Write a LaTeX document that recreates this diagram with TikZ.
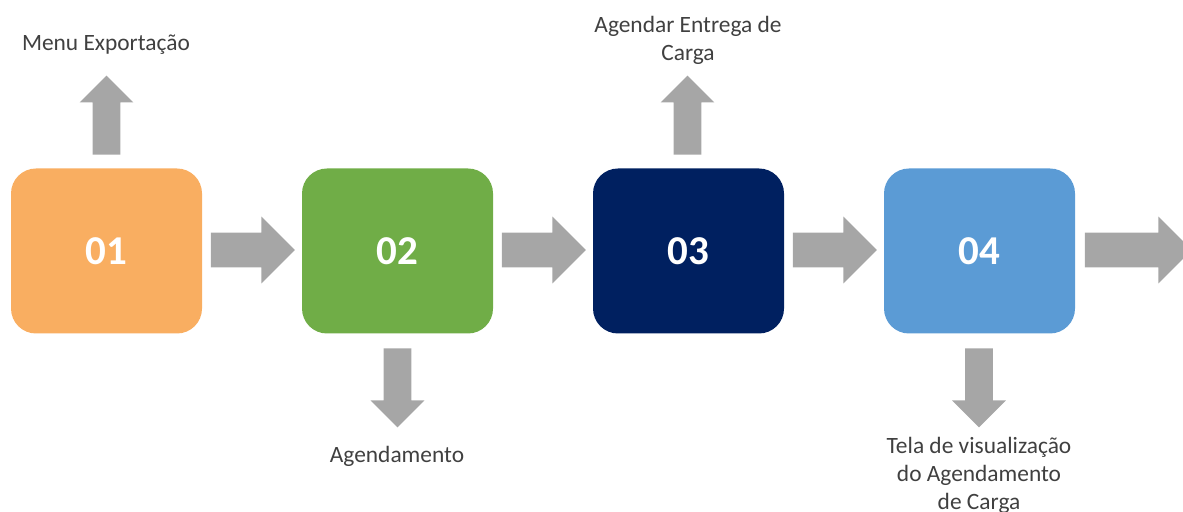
\documentclass[tikz,border=0pt]{standalone}
\usepackage{fontspec}
\setmainfont{Carlito}
\usetikzlibrary{shapes.arrows,calc}

\definecolor{laranja}{HTML}{F9AE61}
\definecolor{verde}{HTML}{70AD47}
\definecolor{marinho}{HTML}{002060}
\definecolor{azul}{HTML}{5B9BD5}
\definecolor{cinza}{HTML}{A6A6A6}
\definecolor{texto}{HTML}{404040}

\begin{document}
\begin{tikzpicture}[x=0.5pt,y=-0.5pt,
	etapa/.style={rounded corners=12.5pt, minimum width=95.5pt, minimum height=82.5pt, text=white, font=\fontsize{20.5}{24}\selectfont\bfseries},
	seta/.style={single arrow, fill=cinza, inner xsep=0pt, inner ysep=8.5pt, minimum width=1pt, minimum height=42pt, single arrow head extend=8pt, anchor=tail},
	setav/.style={single arrow, fill=cinza, inner xsep=0pt, inner ysep=6.75pt, minimum width=1pt, minimum height=39.5pt, single arrow head extend=6.5pt, anchor=tail},
	rotulo/.style={text=texto, align=center, font=\fontsize{11.7}{14}\selectfont}]
	\useasboundingbox (0,0) rectangle (1183,512);

	\node[etapa, fill=laranja] (e1) at (106.5,251) {01};
	\node[etapa, fill=verde] (e2) at (397.5,251) {02};
	\node[etapa, fill=marinho] (e3) at (688.5,251) {03};
	\node[etapa, fill=azul] (e4) at (979.5,251) {04};

	\node[seta] (s1) at ($(e1.east)+(8,-1)$) {};
	\node[seta] (s2) at ($(e2.east)+(8,-1)$) {};
	\node[seta] (s3) at ($(e3.east)+(8,-1)$) {};
	\node[seta, minimum height=53.5pt] (s4) at ($(e4.east)+(9,-1)$) {};

	\node[setav, rotate=90] (su1) at (106.5,155) {};
	\node[setav, rotate=-90] (sd2) at (397.5,348) {};
	\node[setav, rotate=90] (su3) at (687.5,155) {};
	\node[setav, rotate=-90] (sd4) at (979,348) {};

	\node[rotulo] (r1) at (106,45) {Menu Exportação};
	\node[rotulo] (r3) at (688,40) {Agendar Entrega de\\Carga};
	\node[rotulo] (r2) at (397,456) {Agendamento};
	\node[rotulo] (r4) at (979,475) {Tela de visualização\\do Agendamento\\de Carga};
\end{tikzpicture}
\end{document}
